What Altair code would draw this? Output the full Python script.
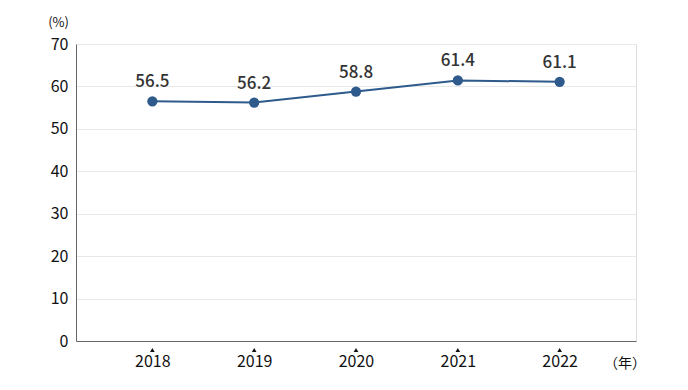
import altair as alt
import pandas as pd

years = ["2018", "2019", "2020", "2021", "2022"]
values = [56.5, 56.2, 58.8, 61.4, 61.1]
y_ticks = [0, 10, 20, 30, 40, 50, 60, 70]

df = pd.DataFrame({"year": years, "value": values})
df["label"] = [f"{v:.1f}" for v in values]

FONT = "Noto Sans CJK JP"
LINE = "#2e5a8c"

x = alt.X("year:O", scale=alt.Scale(type="point", padding=0.75),
          axis=alt.Axis(title=None, labelAngle=0, labelFontSize=16, labelColor="#111",
                        labelFont=FONT, ticks=False, labelPadding=12,
                        domainColor="#666", domainWidth=1))
y = alt.Y("value:Q", scale=alt.Scale(domain=[0, 70]),
          axis=alt.Axis(values=y_ticks, title="(%)", titleAngle=0, titleX=-18, titleY=-22,
                        titleAlign="center", titleBaseline="middle", titleFontSize=13,
                        titleFont=FONT, titleFontWeight="normal", titleColor="#111",
                        labelFontSize=16, labelColor="#111", labelFont=FONT,
                        ticks=False, labelPadding=8, domainColor="#666",
                        gridColor="#e8e8e8", gridWidth=1))

base = alt.Chart(df)

line = base.mark_line(color=LINE, strokeWidth=2).encode(x=x, y=y)
pts = base.mark_circle(color=LINE, size=105, opacity=1).encode(x=x, y=y)
labels = base.mark_text(dy=-19, fontSize=17, fontWeight=500, font=FONT, color="#333").encode(
    x=x, y=y, text="label:N")
tri = base.mark_point(shape="triangle-up", filled=True, color="#111", size=22, opacity=1).encode(
    x=x, y=alt.value(306))
unit = alt.Chart(pd.DataFrame({"t": ["（年）"]})).mark_text(
    fontSize=14, font=FONT, color="#111").encode(
    text="t:N", x=alt.value(549), y=alt.value(320))

chart = alt.layer(line, pts, labels, tri, unit).properties(
    width=560, height=297,
    autosize=alt.AutoSizeParams(type="none"),
    padding={"left": 68, "top": 36, "right": 44, "bottom": 40},
).configure_view(stroke=None).configure(background="white")

chart.save("out.html", embed_options={"renderer": "svg", "actions": False})
